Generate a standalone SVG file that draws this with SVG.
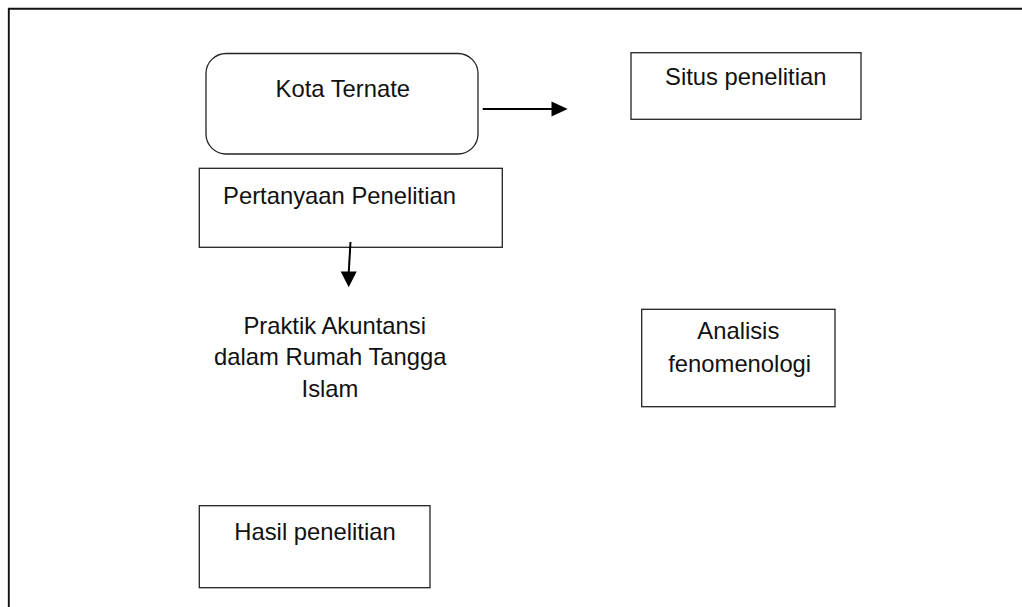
<svg xmlns="http://www.w3.org/2000/svg" width="1022" height="607" viewBox="0 0 1022 607">
<style>
.box{fill:#fff;stroke:#222;stroke-width:1.3}
.t{font-family:"Liberation Sans",Arial,sans-serif;font-size:23.8px;fill:#111;text-anchor:middle}
.con{stroke:#000;stroke-width:2;fill:none}
.head{fill:#000}
</style>
<rect width="1022" height="607" fill="#fff"/>
<g id="frame">
<path d="M8.8,607 V8.8 H1022" fill="none" stroke="#111" stroke-width="1.9"/>
</g>
<g id="kota">
<rect class="box" x="206" y="53.5" width="272" height="100.5" rx="20" ry="20"/>
<text class="t" x="342.8" y="96.7">Kota Ternate</text>
</g>
<g id="situs">
<rect class="box" x="631" y="52.7" width="230" height="66.6"/>
<text class="t" x="745.8" y="85">Situs penelitian</text>
</g>
<g id="pertanyaan">
<rect class="box" x="199.3" y="168.3" width="303" height="79"/>
<text class="t" x="339.5" y="204">Pertanyaan Penelitian</text>
</g>
<g id="praktik">
<text class="t" x="334.7" y="334.3">Praktik Akuntansi</text>
<text class="t" x="330.3" y="365.3">dalam Rumah Tangga</text>
<text class="t" x="330" y="396.7">Islam</text>
</g>
<g id="analisis">
<rect class="box" x="641.7" y="309.3" width="193.3" height="97.4"/>
<text class="t" x="738.3" y="339.3">Analisis</text>
<text class="t" x="739.7" y="371.7">fenomenologi</text>
</g>
<g id="hasil">
<rect class="box" x="199.3" y="505.7" width="230.7" height="82"/>
<text class="t" x="315" y="540">Hasil penelitian</text>
</g>
<g id="connectors">
<line class="con" x1="482.7" y1="109" x2="553" y2="109"/>
<polygon class="head" points="551.5,101.5 567.7,109 551.5,116.5"/>
<line class="con" x1="350.5" y1="242" x2="348.7" y2="273"/>
<polygon class="head" points="340.7,271.5 356.7,271.5 348.7,287.3"/>
</g>
</svg>
